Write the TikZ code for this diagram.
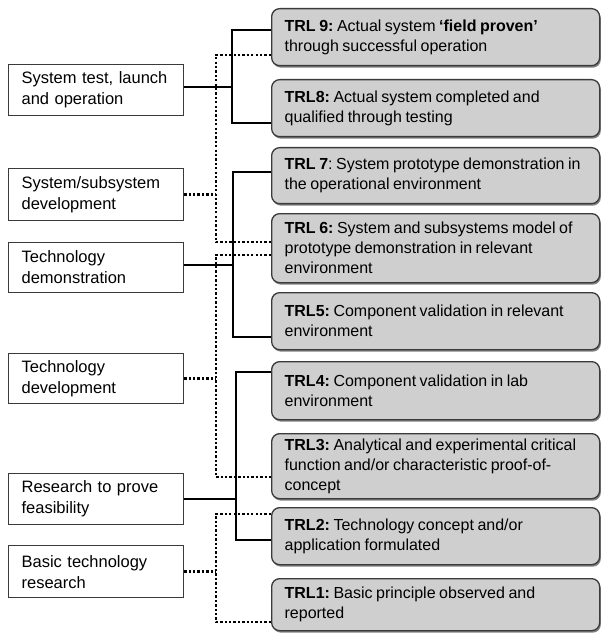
\documentclass[tikz,border=0pt]{standalone}
\usepackage{fontspec}
\setmainfont{Liberation Sans}
\usetikzlibrary{shadows}
\definecolor{boxgray}{HTML}{CFCFCF}
\definecolor{edge}{HTML}{3A3A3A}
\hyphenpenalty=10000
\newcommand\tightwords{\frenchspacing\spaceskip=0.22em plus 0.1em minus 0.02em\relax}
\begin{document}
\begin{tikzpicture}[x=1pt,y=-1pt,
  stage/.style={draw=edge, line width=1.2pt, fill=white, anchor=north west,
    align=left, inner xsep=13pt, text width=149pt,
    font=\fontsize{16.5}{21}\selectfont},
  trl/.style={draw=edge, line width=1.3pt, fill=boxgray, rounded corners=8pt,
    anchor=north west, align=left, inner xsep=13pt, text width=302pt,
    font=\fontsize{16}{20}\selectfont, execute at begin node=\tightwords,
    drop shadow={shadow xshift=1.2pt, shadow yshift=-2pt, fill=black!70, opacity=0.7}},
  link/.style={line width=2.2pt, draw=black},
  dotlink/.style={line width=2.3pt, draw=black, dash pattern=on 2.3pt off 2.1pt}]
\useasboundingbox (0,0) rectangle (601,636);

% stages of development
\node[stage, minimum height=51pt] (L1) at (8,64) {System test, launch\\and operation};
\node[stage, minimum height=52pt] (L2) at (8,168) {System/subsystem\\development};
\node[stage, minimum height=50pt] (L3) at (8,242) {Technology\\demonstration};
\node[stage, minimum height=50pt] (L4) at (8,353) {Technology\\development};
\node[stage, minimum height=51pt] (L5) at (8,473) {Research to prove\\feasibility};
\node[stage, minimum height=52pt] (L6) at (8,545) {Basic technology\\research};

% readiness levels
\node[trl, minimum height=57pt] (T9) at (271,8) {\textbf{TRL 9:} Actual system \textbf{‘field proven’}\\through successful operation};
\node[trl, minimum height=57pt] (T8) at (271,79) {\textbf{TRL8:} Actual system completed and\\qualified through testing};
\node[trl, minimum height=56pt] (T7) at (271,147) {\textbf{TRL 7}: System prototype demonstration in\\the operational environment};
\node[trl, minimum height=69pt] (T6) at (271,213) {\textbf{TRL 6:} System and subsystems model of\\prototype demonstration in relevant\\environment};
\node[trl, minimum height=57pt] (T5) at (271,292) {\textbf{TRL5:} Component validation in relevant\\environment};
\node[trl, minimum height=58pt] (T4) at (271,361) {\textbf{TRL4:} Component validation in lab\\environment};
\node[trl, minimum height=65pt] (T3) at (271,433) {\textbf{TRL3:} Analytical and experimental critical\\function and/or characteristic proof-of-\\concept};
\node[trl, minimum height=57pt] (T2) at (271,507) {\textbf{TRL2:} Technology concept and/or\\application formulated};
\node[trl, minimum height=52pt] (T1) at (271,578) {\textbf{TRL1:} Basic principle observed and\\reported};

% dotted links
\draw[dotlink] (T9.west |- 0,55) -| (216,242) -- (T6.west |- 0,242);
\draw[dotlink] (L2.east) -- (L2.east -| 216,0);
\draw[dotlink] (T6.west |- 0,255) -| (216,477) -- (T3.west |- 0,477);
\draw[dotlink] (L4.east) -- (L4.east -| 216,0);
\draw[dotlink] (T2.west |- 0,514) -| (216,622) -- (T1.west |- 0,622);
\draw[dotlink] (L6.east) -- (L6.east -| 216,0);

% solid links
\draw[link] (T9.west |- 0,30) -| (232,123) -- (T8.west |- 0,123);
\draw[link] (L1.east |- 0,87) -- (232,87);
\draw[link] (T7.west |- 0,172) -| (233,337) -- (T5.west |- 0,337);
\draw[link] (L3.east |- 0,265) -- (233,265);
\draw[link] (T4.west |- 0,372) -| (236,540) -- (T2.west |- 0,540);
\draw[link] (L5.east |- 0,499) -- (236,499);
\end{tikzpicture}
\end{document}
